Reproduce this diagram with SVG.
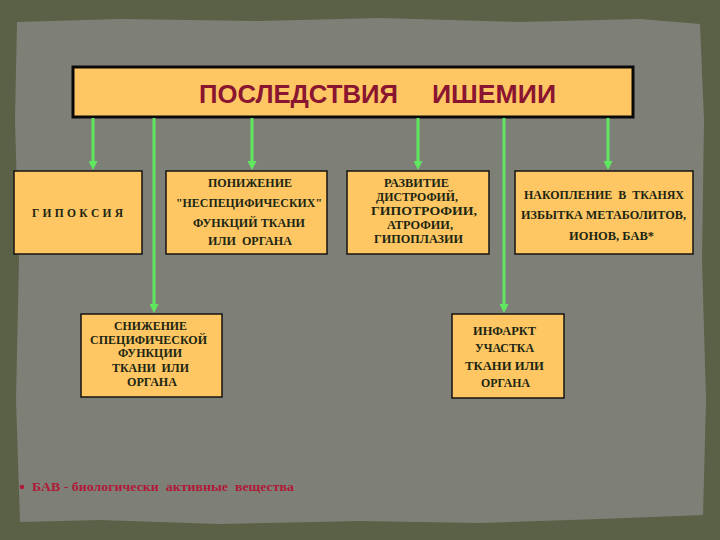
<svg xmlns="http://www.w3.org/2000/svg" width="720" height="540" viewBox="0 0 720 540">
<style>
.box{fill:#fec764;stroke:#141414;stroke-width:1.5}
.t{font-family:"Liberation Serif","Times New Roman",serif;font-weight:bold;font-size:11.5px;fill:#1c2612;text-anchor:middle}
.conn{stroke:#5fe85f;stroke-width:3;fill:none}
</style>
<defs>
<marker id="ah" markerWidth="9" markerHeight="9" refX="5" refY="4.5" orient="auto" markerUnits="userSpaceOnUse" viewBox="0 0 9 9">
<path d="M0,0 L9,4.5 L0,9 Z" fill="#5fe85f"/>
</marker>
</defs>
<rect x="0" y="0" width="720" height="540" fill="#5b6147"/>
<path d="M17,22 L120,19 L260,21 L380,18 L520,22 L640,19 L700,24 L704,120 L702,260 L706,400 L703,515 L600,519 L480,523 L360,521 L220,524 L100,520 L20,522 L16,400 L19,260 L15,120 Z" fill="#7e8077"/>
<g id="title">
<rect x="73" y="67" width="560" height="50" fill="#fec764" stroke="#0a0a0a" stroke-width="3"/>
<text x="199" y="103" font-family="Liberation Sans, Arial, sans-serif" font-weight="bold" font-size="25" fill="#8a1530" textLength="199" lengthAdjust="spacingAndGlyphs">ПОСЛЕДСТВИЯ</text>
<text x="432" y="103" font-family="Liberation Sans, Arial, sans-serif" font-weight="bold" font-size="25" fill="#8a1530" textLength="124" lengthAdjust="spacingAndGlyphs">ИШЕМИИ</text>
</g>
<g id="connectors">
<line class="conn" x1="93" y1="118" x2="93" y2="166" marker-end="url(#ah)"/>
<line class="conn" x1="154" y1="118" x2="154" y2="309" marker-end="url(#ah)"/>
<line class="conn" x1="252" y1="118" x2="252" y2="166" marker-end="url(#ah)"/>
<line class="conn" x1="418" y1="118" x2="418" y2="166" marker-end="url(#ah)"/>
<line class="conn" x1="504" y1="118" x2="504" y2="309" marker-end="url(#ah)"/>
<line class="conn" x1="608" y1="118" x2="608" y2="166" marker-end="url(#ah)"/>
</g>
<g id="hypoxia">
<rect class="box" x="14" y="171" width="128" height="83"/>
<text class="t" x="77.5" y="217" textLength="91" lengthAdjust="spacing">Г И П О К С И Я</text>
</g>
<g id="nonspecific">
<rect class="box" x="166" y="171" width="161" height="83"/>
<text class="t" x="250" y="187" textLength="84" lengthAdjust="spacingAndGlyphs">ПОНИЖЕНИЕ</text>
<text class="t" x="249" y="207" textLength="146" lengthAdjust="spacingAndGlyphs">"НЕСПЕЦИФИЧЕСКИХ"</text>
<text class="t" x="249" y="227" textLength="112" lengthAdjust="spacingAndGlyphs">ФУНКЦИЙ ТКАНИ</text>
<text class="t" x="250" y="245" textLength="84" lengthAdjust="spacingAndGlyphs" xml:space="preserve">ИЛИ  ОРГАНА</text>
</g>
<g id="dystrophy">
<rect class="box" x="347" y="171" width="142" height="83"/>
<text class="t" x="416.5" y="187" textLength="65" lengthAdjust="spacingAndGlyphs">РАЗВИТИЕ</text>
<text class="t" x="417" y="201" textLength="82" lengthAdjust="spacingAndGlyphs">ДИСТРОФИЙ,</text>
<text class="t" x="424" y="215" textLength="106" lengthAdjust="spacingAndGlyphs">ГИПОТРОФИИ,</text>
<text class="t" x="420" y="229" textLength="66" lengthAdjust="spacingAndGlyphs">АТРОФИИ,</text>
<text class="t" x="418.5" y="243" textLength="89" lengthAdjust="spacingAndGlyphs">ГИПОПЛАЗИИ</text>
</g>
<g id="accumulation">
<rect class="box" x="515" y="171" width="178" height="83"/>
<text class="t" x="604" y="199" textLength="160" lengthAdjust="spacingAndGlyphs" xml:space="preserve">НАКОПЛЕНИЕ  В  ТКАНЯХ</text>
<text class="t" x="603.5" y="219" textLength="165" lengthAdjust="spacingAndGlyphs">ИЗБЫТКА МЕТАБОЛИТОВ,</text>
<text class="t" x="611.5" y="240" textLength="85" lengthAdjust="spacingAndGlyphs">ИОНОВ, БАВ*</text>
</g>
<g id="specific">
<rect class="box" x="81" y="314" width="141" height="83"/>
<text class="t" x="150.5" y="330" textLength="73" lengthAdjust="spacingAndGlyphs">СНИЖЕНИЕ</text>
<text class="t" x="148.5" y="344" textLength="117" lengthAdjust="spacingAndGlyphs">СПЕЦИФИЧЕСКОЙ</text>
<text class="t" x="150" y="357" textLength="64" lengthAdjust="spacingAndGlyphs">ФУНКЦИИ</text>
<text class="t" x="150.5" y="372" textLength="77" lengthAdjust="spacingAndGlyphs" xml:space="preserve">ТКАНИ  ИЛИ</text>
<text class="t" x="152" y="386" textLength="50" lengthAdjust="spacingAndGlyphs">ОРГАНА</text>
</g>
<g id="infarct">
<rect class="box" x="452" y="314" width="112" height="84"/>
<text class="t" x="504.5" y="335" textLength="63" lengthAdjust="spacingAndGlyphs">ИНФАРКТ</text>
<text class="t" x="504.5" y="352" textLength="59" lengthAdjust="spacingAndGlyphs">УЧАСТКА</text>
<text class="t" x="504.5" y="370" textLength="79" lengthAdjust="spacingAndGlyphs">ТКАНИ ИЛИ</text>
<text class="t" x="505.5" y="387" textLength="49" lengthAdjust="spacingAndGlyphs">ОРГАНА</text>
</g>
<g id="footnote">
<circle cx="22" cy="487" r="2.3" fill="#b01a38"/>
<text x="32" y="491" font-family="Liberation Serif, Times New Roman, serif" font-weight="bold" font-size="11.5" fill="#b01a38" textLength="262" lengthAdjust="spacingAndGlyphs" xml:space="preserve">БАВ - биологически  активные  вещества</text>
</g>
</svg>
